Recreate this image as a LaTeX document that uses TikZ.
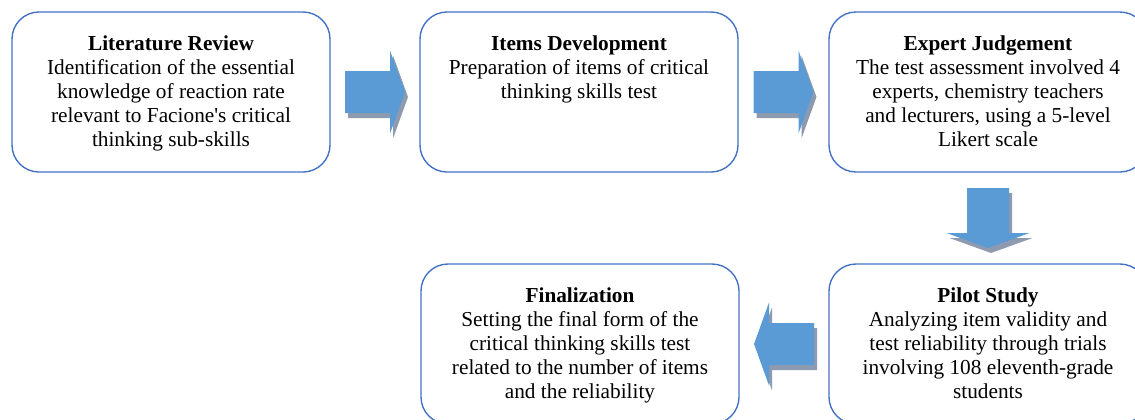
\documentclass[tikz,border=0pt]{standalone}
\usepackage{fontspec}
\setmainfont{Liberation Serif}
\usepackage{xcolor}
\usetikzlibrary{calc}

\definecolor{boxblue}{HTML}{4472C4}
\definecolor{arrowblue}{HTML}{5B9BD5}
\definecolor{arrowshade}{HTML}{8E9AAF}

\newcommand{\steptext}[2]{\parbox[c][80pt][t]{159pt}{\centering
  \rule{0pt}{19pt}\textbf{#1}\\#2}}

\begin{document}
\begin{tikzpicture}[
  x=0.5pt,y=-0.5pt,
  every node/.style={font=\fontsize{10.65}{12.1}\selectfont},
  stepbox/.style={draw=boxblue,line width=0.7pt,rounded corners=13.5pt,
                  inner sep=0pt,fill=white},
  blockarrow/.pic={\path[pic actions] (-30,-21) -- (15,-21) -- (15,-41.5)
                   -- (30,0) -- (15,41.5) -- (15,21) -- (-30,21) -- cycle;},
  shadowed/.style={fill=arrowshade},
  solid/.style={fill=arrowblue}
]
\useasboundingbox (0,0) rectangle (1135,419);
\clip (0,0) rectangle (1135,419);

%% Row 1
\node[stepbox] (lit) at (171,92) {\steptext{Literature Review}{Identification of the essential\\
  knowledge of reaction rate\\ relevant to Facione\textquotesingle s critical\\ thinking sub-skills}};
\node[stepbox] (dev) at (579,92) {\steptext{Items Development}{Preparation of items of critical\\
  thinking skills test}};
\node[stepbox] (exp) at (988,92) {\steptext{Expert Judgement}{The test assessment involved 4\\
  experts, chemistry teachers\\ and lecturers, using a 5-level\\ Likert scale}};

%% Row 2
\node[stepbox] (fin) at (580,344) {\steptext{Finalization}{Setting the final form of the\\
  critical thinking skills test\\ related to the number of items\\ and the reliability}};
\node[stepbox] (pil) at (988,344) {\steptext{Pilot Study}{Analyzing item validity and\\
  test reliability through trials\\ involving 108 eleventh-grade\\ students}};

%% Block arrows between the steps
\coordinate (m1) at ($(lit.east)!0.5!(dev.west)$);
\coordinate (m2) at ($(dev.east)!0.5!(exp.west)$);
\coordinate (m3) at ($(exp.south)!0.5!(pil.north)$);
\coordinate (m4) at ($(pil.west)!0.5!(fin.east)$);

\pic[shadowed] at ($(m1)+(3,5)$) {blockarrow};
\pic[solid] at (m1) {blockarrow};
\pic[shadowed] at ($(m2)+(3,5)$) {blockarrow};
\pic[solid] at (m2) {blockarrow};
\pic[shadowed,rotate=-90] at ($(m3)+(3,5)$) {blockarrow};
\pic[solid,rotate=-90] at (m3) {blockarrow};
\pic[shadowed,rotate=180] at ($(m4)+(3,5)$) {blockarrow};
\pic[solid,rotate=180] at (m4) {blockarrow};

\end{tikzpicture}
\end{document}
